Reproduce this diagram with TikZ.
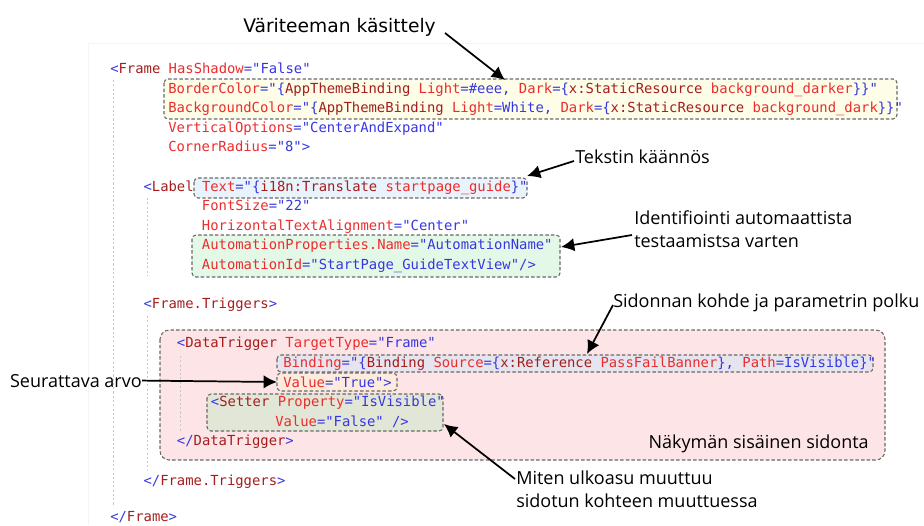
\documentclass[tikz,border=0pt]{standalone}
\usepackage{fontspec}
\setmonofont{DejaVu Sans Mono}
\newfontfamily\notefont{Open Sans}
\newfontfamily\headfont{DejaVu Sans}
\usetikzlibrary{arrows.meta}

\definecolor{xmlblue}{RGB}{55,55,225}
\definecolor{xmlelem}{RGB}{165,30,30}
\definecolor{xmlattr}{RGB}{235,45,45}
\definecolor{boxline}{RGB}{105,105,105}
\definecolor{guide}{RGB}{200,200,200}
\definecolor{themefill}{RGB}{253,253,232}
\definecolor{textfill}{RGB}{232,243,252}
\definecolor{autofill}{RGB}{228,248,232}
\definecolor{bindfill}{RGB}{253,228,230}
\definecolor{pathfill}{RGB}{230,228,238}
\definecolor{valfill}{RGB}{253,236,222}
\definecolor{setfill}{RGB}{226,230,214}

\newcommand\xd[1]{\textcolor{xmlblue}{#1}}
\newcommand\xel[1]{\textcolor{xmlelem}{#1}}
\newcommand\xat[1]{\textcolor{xmlattr}{#1}}

\tikzset{
  code/.style={anchor=base west, inner sep=0pt, font=\ttfamily\fontsize{10.4}{12}\selectfont},
  note/.style={inner sep=0pt, font=\notefont\fontsize{13.5}{17.4}\selectfont, align=left},
  hlbox/.style={draw=boxline, line width=0.8pt, dash pattern=on 2.6pt off 1.6pt, rounded corners=3pt},
  guideline/.style={draw=guide, line width=0.6pt, dash pattern=on 1.6pt off 1.6pt},
  pointer/.style={draw=black, line width=1.3pt, -{Latex[length=10pt,width=10pt]}},
}

\begin{document}
\begin{tikzpicture}[x=0.75pt,y=-0.75pt]
  \useasboundingbox (0,0) rectangle (924,525);
  %%%%% EDITOR %%%%%
  \draw[black!4, line width=0.5pt] (88,43) -- (924,43);
  \draw[black!4, line width=0.5pt] (88,43) -- (88,525);

  %%%%% BOXES %%%%%
  \draw[hlbox, fill=bindfill, rounded corners=7pt] (160,330) rectangle (885,460);
  \draw[hlbox, fill=themefill] (164,79) rectangle (897,119);
  \draw[hlbox, fill=textfill] (194,178) rectangle (527,198);
  \draw[hlbox, fill=autofill] (192,235) rectangle (560,277);
  \draw[hlbox, fill=pathfill] (277,355) rectangle (873,372);
  \draw[hlbox, fill=valfill] (277,373) rectangle (397,391);
  \draw[hlbox, fill=setfill] (207,394) rectangle (443,431);

  %%%%% GUIDES %%%%%
  \draw[guideline] (113,80) -- (113,506);
  \draw[guideline] (147,198) -- (147,276);
  \draw[guideline] (147,316) -- (147,470);
  \draw[guideline] (180,356) -- (180,431);

  %%%%% CODE %%%%%
  \node[code] (frame) at (110,73.5) {\xd{<}\xel{Frame} \xat{HasShadow}\xd{="False"}};
  \node[code] (border) at (168,93.1) {\xat{BorderColor}\xd{="\{}\xel{AppThemeBinding} \xat{Light}\xd{=\#eee,} \xat{Dark}\xd{=\{}\xel{x:StaticResource} \xat{background\_darker}\xd{\}\}"}};
  \node[code] (backgr) at (168,112.7) {\xat{BackgroundColor}\xd{="\{}\xel{AppThemeBinding} \xat{Light}\xd{=White,} \xat{Dark}\xd{=\{}\xel{x:StaticResource} \xat{background\_dark}\xd{\}\}"}};
  \node[code] (vopts) at (168,132.3) {\xat{VerticalOptions}\xd{="CenterAndExpand"}};
  \node[code] (radius) at (168,151.9) {\xat{CornerRadius}\xd{="8">}};

  \node[code] (label) at (143.3,191.1) {\xd{<}\xel{Label} \xat{Text}\xd{="\{}\xel{i18n:Translate} \xat{startpage\_guide}\xd{\}"}};
  \node[code] (fsize) at (201.7,210.7) {\xat{FontSize}\xd{="22"}};
  \node[code] (halign) at (201.7,230.3) {\xat{HorizontalTextAlignment}\xd{="Center"}};
  \node[code] (autoname) at (201.7,249.9) {\xat{AutomationProperties.Name}\xd{="AutomationName"}};
  \node[code] (autoid) at (201.7,269.5) {\xat{AutomationId}\xd{="StartPage\_GuideTextView"/>}};

  \node[code] (trig) at (143.3,308.7) {\xd{<}\xel{Frame.Triggers}\xd{>}};
  \node[code] (dtrig) at (176.7,347.9) {\xd{<}\xel{DataTrigger} \xat{TargetType}\xd{="Frame"}};
  \node[code] (binding) at (283,367.5) {\xat{Binding}\xd{="\{}\xel{Binding} \xat{Source}\xd{=\{}\xel{x:Reference} \xat{PassFailBanner}\xd{\},} \xat{Path}\xd{=IsVisible\}"}};
  \node[code] (value) at (283,387.1) {\xat{Value}\xd{="True">}};
  \node[code] (setter) at (210.7,406.7) {\xd{<}\xel{Setter} \xat{Property}\xd{="IsVisible"}};
  \node[code] (setval) at (275,426.3) {\xat{Value}\xd{="False" />}};
  \node[code] (dtrigend) at (176.7,445.9) {\xd{</}\xel{DataTrigger}\xd{>}};
  \node[code] (trigend) at (143.3,485.1) {\xd{</}\xel{Frame.Triggers}\xd{>}};
  \node[code] (frameend) at (110,521.5) {\xd{</}\xel{Frame}\xd{>}};

  %%%%% NOTES %%%%%
  \node[note, anchor=base west, font=\headfont\fontsize{14}{17}\selectfont] (vari) at (243,32) {Väriteeman käsittely};
  \node[note, anchor=base west] (kaannos) at (575,163) {Tekstin käännös};
  \node[note, anchor=west] (ident) at (634,229) {Identifiointi automaattista\\testaamistsa varten};
  \node[note, anchor=base west] (sidonta) at (613,307) {Sidonnan kohde ja parametrin polku};
  \node[note, anchor=base east] (seur) at (142,387) {Seurattava arvo};
  \node[note, anchor=base east] (nakyma) at (869,448) {Näkymän sisäinen sidonta};
  \node[note, anchor=west] (miten) at (516,489) {Miten ulkoasu muuttuu\\sidotun kohteen muuttuessa};

  %%%%% ARROWS %%%%%
  \coordinate (variend) at (445,33);
  \coordinate (themetip) at (505,80);
  \coordinate (kaannosend) at (574,161);
  \coordinate (texttip) at (527,176);
  \coordinate (identend) at (632,235);
  \coordinate (autotip) at (561,247);
  \coordinate (sidontaend) at (613,305);
  \coordinate (pathtip) at (587,354);
  \coordinate (valtip) at (277,382);
  \coordinate (mitenend) at (515,479);
  \coordinate (settip) at (444,424);

  \draw[pointer] (variend) -- (themetip);
  \draw[pointer] (kaannosend) -- (texttip);
  \draw[pointer] (identend) -- (autotip);
  \draw[pointer] (sidontaend) -- (pathtip);
  \draw[pointer] (seur.east) -- (valtip);
  \draw[pointer] (mitenend) -- (settip);
\end{tikzpicture}
\end{document}
